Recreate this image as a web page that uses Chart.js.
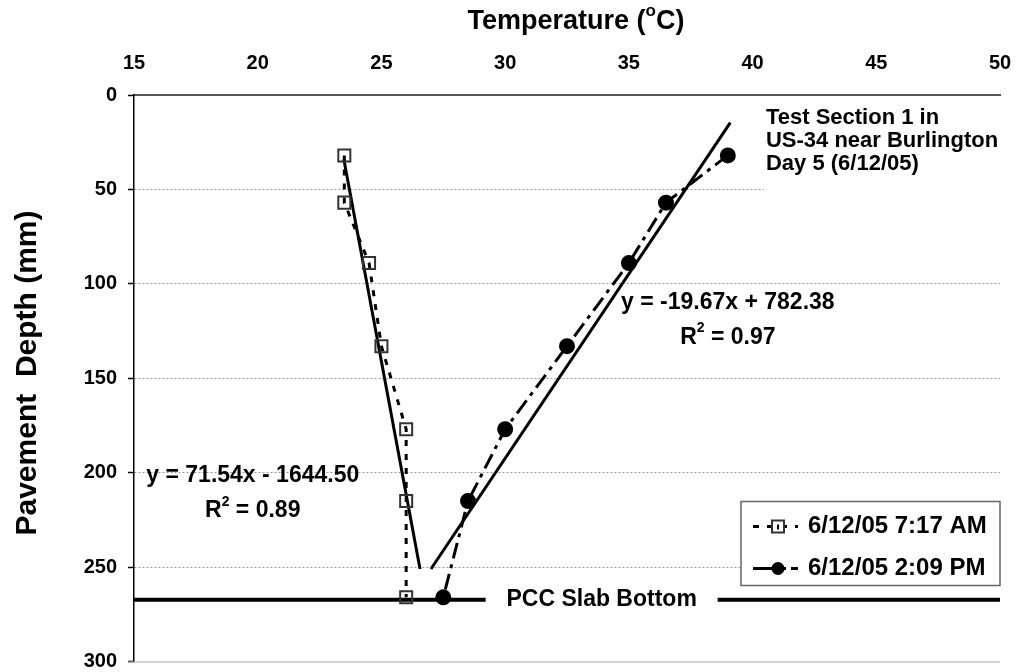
<!DOCTYPE html>
<html>
<head>
<meta charset="utf-8">
<script src="https://cdn.jsdelivr.net/npm/chart.js@4.4.0/dist/chart.umd.min.js"></script>
<style>
  body { margin: 0; background: #fff; }
  canvas { display: block; }
</style>
</head>
<body>
<canvas id="chart" width="1016" height="672"></canvas>
<script>
// depths of the sensors (mm) and readings at the two times (deg C)
const depths = [32, 57, 89, 133, 177, 215, 266];
const amTemps = [23.5, 23.5, 24.5, 25, 26, 26, 26];
const pmTemps = [39, 36.5, 35, 32.5, 30, 28.5, 27.5];

// trend line end points
const amTrendX = [23.48, 26.56];
const amTrendY = [34, 251];
const pmTrendX = [27.0, 39.1];
const pmTrendY = [251, 14.6];

const pccDepth = 267.3;
const xTicks = [15, 50, 5];   // min, max, step
const yTicks = [0, 300, 50];

const seriesLabels = ['6/12/05 7:17 AM', '6/12/05 2:09 PM'];
const amEq = 'y = 71.54x - 1644.50', amR2 = ' = 0.89';
const pmEq = 'y = -19.67x + 782.38', pmR2 = ' = 0.97';
const infoLines = ['Test Section 1 in', 'US-34 near Burlington', 'Day 5 (6/12/05)'];

const FONT = '"Liberation Sans", Arial, sans-serif';

function pts(xs, ys) {
    return xs.map((v, i) => ({ x: v, y: ys[i] }));
}

// text with superscript parts, e.g. R^2
function richText(ctx, parts, x, y, size, align) {
    const big = `bold ${size}px ${FONT}`;
    const small = `bold ${Math.round(size * 0.62)}px ${FONT}`;
    let w = 0;
    parts.forEach(p => { ctx.font = p.sup ? small : big; w += ctx.measureText(p.t).width; });
    let cx = align === 'center' ? x - w / 2 : x;
    ctx.textAlign = 'left';
    ctx.textBaseline = 'middle';
    parts.forEach(p => {
        ctx.font = p.sup ? small : big;
        ctx.fillText(p.t, cx, p.sup ? y - size * 0.38 : y);
        cx += ctx.measureText(p.t).width;
    });
}

const notes = {
    id: 'notes',
    afterDatasetsDraw(chart) {
        const { ctx, chartArea: a, scales: { x, y } } = chart;
        ctx.save();

        // bottom frame line at 300
        ctx.strokeStyle = '#aaa';
        ctx.lineWidth = 1;
        ctx.beginPath();
        ctx.moveTo(a.left - 6, a.bottom + 0.5);
        ctx.lineTo(a.right, a.bottom + 0.5);
        ctx.stroke();

        ctx.fillStyle = '#000';

        // axis titles
        richText(ctx, [{ t: 'Temperature (' }, { t: 'o', sup: true }, { t: 'C)' }], 576, 22, 27, 'center');
        ctx.save();
        ctx.translate(36, 373);
        ctx.rotate(-Math.PI / 2);
        ctx.font = `bold 30px ${FONT}`;
        ctx.textAlign = 'center';
        ctx.textBaseline = 'alphabetic';
        ctx.fillText('Pavement  Depth (mm)', 0, 0);
        ctx.restore();

        // trend equations
        richText(ctx, [{ t: amEq }], x.getPixelForValue(19.8), y.getPixelForValue(201.8), 23, 'center');
        richText(ctx, [{ t: 'R' }, { t: '2', sup: true }, { t: amR2 }], x.getPixelForValue(19.8), y.getPixelForValue(220.2), 23, 'center');
        richText(ctx, [{ t: pmEq }], x.getPixelForValue(39.0), y.getPixelForValue(109.9), 23, 'center');
        richText(ctx, [{ t: 'R' }, { t: '2', sup: true }, { t: pmR2 }], x.getPixelForValue(39.0), y.getPixelForValue(128.3), 23, 'center');

        // info box
        const ix = x.getPixelForValue(40.54);
        ctx.fillStyle = '#fff';
        ctx.fillRect(ix - 2, a.top + 2, a.right - ix + 2, 100);
        ctx.fillStyle = '#000';
        infoLines.forEach((t, i) => {
            richText(ctx, [{ t }], ix, y.getPixelForValue(12.3 + i * 12.2), 22, 'left');
        });

        // slab bottom label
        const px = x.getPixelForValue(33.9), py = y.getPixelForValue(pccDepth);
        ctx.fillStyle = '#fff';
        ctx.fillRect(px - 116, py - 12, 232, 24);
        ctx.fillStyle = '#000';
        richText(ctx, [{ t: 'PCC Slab Bottom' }], px, py, 23, 'center');

        // legend
        const lx = a.right - 259, ly = a.bottom - 160, lw = 259, lh = 84;
        ctx.fillStyle = '#fff';
        ctx.fillRect(lx, ly, lw, lh);
        ctx.strokeStyle = '#666';
        ctx.lineWidth = 1.5;
        ctx.strokeRect(lx, ly, lw, lh);
        chart.data.datasets.slice(0, 2).forEach((ds, i) => {
            const ry = ly + 25 + i * 42;
            ctx.strokeStyle = '#000';
            ctx.lineWidth = ds.borderWidth;
            ctx.setLineDash(i === 0 ? [6, 8] : []);
            ctx.beginPath();
            ctx.moveTo(lx + 12, ry);
            ctx.lineTo(lx + 57, ry);
            ctx.stroke();
            ctx.setLineDash([]);
            const mx = lx + 37;
            if (ds.pointStyle === 'rect') {
                ctx.fillStyle = '#fff';
                ctx.fillRect(mx - 6, ry - 6, 12, 12);
                ctx.strokeStyle = ds.pointBorderColor;
                ctx.lineWidth = ds.pointBorderWidth;
                ctx.strokeRect(mx - 6, ry - 6, 12, 12);
                ctx.fillStyle = '#000';
                ctx.fillRect(mx - 1, ry - 2, 2, 5);
            } else {
                ctx.fillStyle = '#fff';
                ctx.fillRect(mx + 8, ry - 3, 5, 6);
                ctx.fillStyle = '#000';
                ctx.fillRect(mx + 13, ry - 1.5, 4, 3);
                ctx.beginPath();
                ctx.arc(mx, ry, ds.pointRadius, 0, Math.PI * 2);
                ctx.fill();
            }
            ctx.fillStyle = '#000';
            richText(ctx, [{ t: ds.label }], lx + 67, ry, 24, 'left');
        });

        ctx.restore();
    }
};

new Chart(document.getElementById('chart').getContext('2d'), {
    type: 'scatter',
    data: {
        datasets: [
            {
                label: seriesLabels[0],
                data: pts(amTemps, depths),
                showLine: true,
                borderColor: '#000',
                borderWidth: 3,
                borderDash: [6, 8],
                pointStyle: 'rect',
                pointRadius: 8.5,
                pointBorderColor: '#333',
                pointBorderWidth: 2,
                pointBackgroundColor: 'rgba(0,0,0,0)'
            },
            {
                label: seriesLabels[1],
                data: pts(pmTemps, depths),
                showLine: true,
                borderColor: '#000',
                borderWidth: 3,
                borderDash: [16, 6, 4, 6],
                pointStyle: 'circle',
                pointRadius: 6.5,
                pointBorderColor: '#000',
                pointBackgroundColor: '#000'
            },
            {
                label: 'am trend',
                data: pts(amTrendX, amTrendY),
                showLine: true,
                borderColor: '#000',
                borderWidth: 3,
                pointRadius: 0
            },
            {
                label: 'pm trend',
                data: pts(pmTrendX, pmTrendY),
                showLine: true,
                borderColor: '#000',
                borderWidth: 3,
                pointRadius: 0
            },
            {
                label: 'PCC Slab Bottom',
                data: pts([xTicks[0], xTicks[1]], [pccDepth, pccDepth]),
                showLine: true,
                borderColor: '#000',
                borderWidth: 4,
                pointRadius: 0
            }
        ]
    },
    options: {
        responsive: false,
        animation: false,
        devicePixelRatio: 1,
        layout: { padding: { left: 0, right: 16, top: 0, bottom: 7 } },
        plugins: {
            legend: { display: false },
            tooltip: { enabled: false }
        },
        scales: {
            x: {
                type: 'linear',
                position: 'top',
                min: xTicks[0],
                max: xTicks[1],
                ticks: { stepSize: xTicks[2], padding: 20, color: '#000', font: { family: FONT, size: 20, weight: 'bold' } },
                grid: { display: false, drawTicks: false },
                border: { color: '#555', width: 2 },
                afterFit(s) { s.height = 95; s.paddingLeft = 0; s.paddingRight = 0; }
            },
            y: {
                reverse: true,
                min: yTicks[0],
                max: yTicks[1],
                ticks: { stepSize: yTicks[2], padding: 11, color: '#000', font: { family: FONT, size: 20, weight: 'bold' } },
                grid: {
                    color: c => (c.tick && (c.tick.value === 0 || c.tick.value === 300)) ? 'rgba(0,0,0,0)' : '#9a9a9a',
                    lineWidth: 1,
                    tickLength: 6,
                    tickColor: '#000',
                    tickWidth: 1.5
                },
                border: { color: '#000', width: 1.5, dash: [2, 2] },
                afterFit(s) { s.width = 134; s.paddingTop = 0; s.paddingBottom = 0; }
            }
        }
    },
    plugins: [notes]
});
</script>
</body>
</html>
